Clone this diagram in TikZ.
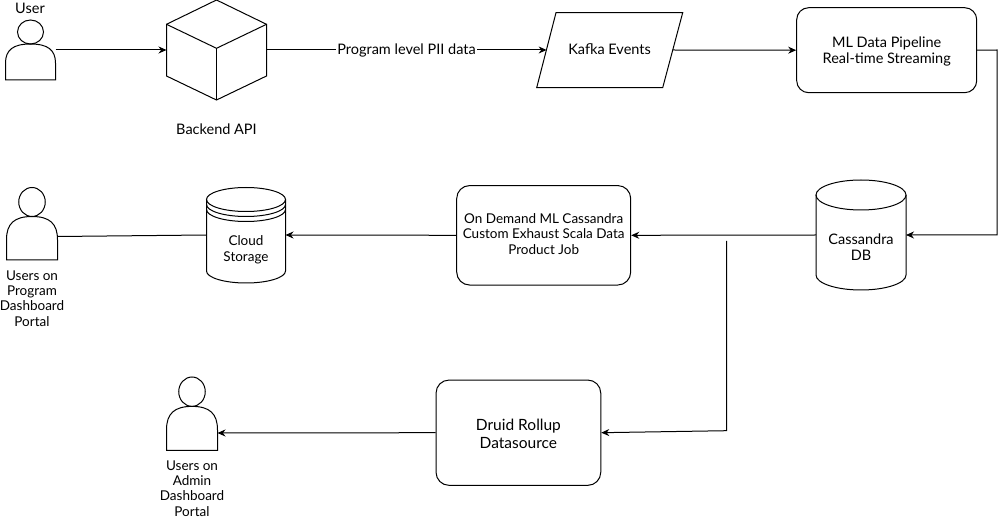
\documentclass[tikz,border=0pt]{standalone}
\usepackage{fontspec}
\setmainfont{Lato}
\usepackage{tikz}
\usetikzlibrary{arrows.meta}

\tikzset{
  roundbox/.style={draw,rounded corners=13pt,align=center,inner sep=0pt},
  label/.style={align=center,font=\fontsize{14.5}{16}\selectfont},
  smalllabel/.style={align=center,font=\fontsize{13.5}{15.3}\selectfont},
  flow/.style={-{Stealth[length=8pt,width=7pt]}},
  hidden/.style={inner sep=0pt,outer sep=0pt},
}

\begin{document}
\begin{tikzpicture}[x=1pt,y=-1pt,line width=1pt]
  \useasboundingbox (0,0) rectangle (1005,521);

  % people
  \foreach \n/\x/\y/\w/\h in {user/5.5/20/50/60,progusers/6.5/187.5/51/72.5,adminusers/166.5/377/51/73.5} {
    \begin{scope}[shift={(\x,\y)},x=\w pt,y=-\h pt]
      \draw (0.5,0.2) ellipse [x radius=0.26*\w pt,y radius=0.2*\h pt];
      \draw (0,1) -- (0,0.72) .. controls (0,0.5) and (0.15,0.4) .. (0.5,0.4)
        .. controls (0.85,0.4) and (1,0.5) .. (1,0.72) -- (1,1) -- cycle;
    \end{scope}
    \node[hidden,minimum width=\w pt,minimum height=\h pt,anchor=north west] (\n) at (\x,\y) {};
  }

  % cube
  \draw (216.5,0) -- (266.5,24.3) -- (266.5,76) -- (216.5,100) -- (166.5,76) -- (166.5,24.3) -- cycle;
  \draw (166.5,24.3) -- (216.5,48.3) -- (266.5,24.3);
  \draw (216.5,48.3) -- (216.5,100);
  \node[hidden,minimum width=100pt,minimum height=100pt] (api) at (216.5,50) {};

  % kafka
  \draw (556,12.7) -- (682.7,12.7) -- (662.7,87.7) -- (536.7,87.7) -- cycle;
  \node[hidden,label,minimum width=126pt] (kafka) at (609.6,49) {Kafka Events};

  \node[draw,rounded corners=12pt,minimum width=180pt,minimum height=85pt] (pipeline) at (886.7,50.2) {};
  \node[label] (pipelinelabel) at (886.7,51) {ML Data Pipeline\\Real-time Streaming};
  \node[draw,rounded corners=13pt,minimum width=174pt,minimum height=99.5pt] (ondemand) at (543.7,235.3) {};
  \node[smalllabel] (ondemandlabel) at (543.7,234) {On Demand ML Cassandra\\Custom Exhaust Scala Data\\Product Job};
  \node[draw,rounded corners=13pt,minimum width=164.7pt,minimum height=105.3pt] (druid) at (518.4,432.7) {};
  \node[label,font=\fontsize{15.5}{18}\selectfont] (druidlabel) at (518.4,434) {Druid Rollup\\Datasource};

  % cylinders
  \draw (816,195) -- (816,275) arc [start angle=180,end angle=360,x radius=45,y radius=-15] -- (906,195);
  \draw (861,195) ellipse [x radius=45,y radius=15];
  \node[hidden,minimum width=90pt,minimum height=110pt] (cassandra) at (861,235) {};
  \draw (206.5,199.5) -- (206.5,271) arc [start angle=180,end angle=360,x radius=39.5,y radius=-12] -- (285.5,199.5);
  \draw (246,199.5) ellipse [x radius=39.5,y radius=12];
  \foreach \d in {5,10} {
    \draw (206.5,199.5+\d) arc [start angle=180,end angle=360,x radius=39.5,y radius=-12];
  }
  \node[hidden,minimum width=79pt,minimum height=96pt] (cloud) at (246,235) {};

  % labels
  \node[label] (userlabel) at (30,8) {User};
  \node[label] (apilabel) at (216.5,129) {Backend API};
  \node[label] (cassandralabel) at (861,247) {Cassandra\\DB};
  \node[smalllabel,font=\fontsize{13.5}{16}\selectfont] (cloudlabel) at (246,250) {Cloud\\Storage};
  \node[smalllabel] (proglabel) at (32,298.5) {Users on\\Program\\Dashboard\\Portal};
  \node[smalllabel] (adminlabel) at (192,488.5) {Users on\\Admin\\Dashboard\\Portal};

  % connectors
  \coordinate (branchtop) at (726.7,241);
  \coordinate (branchbend) at (726.7,430.7);
  \draw[flow] (user.east |- 0,50) -- (api.west);
  \draw[flow] (api.east) -- node[fill=white,label,inner sep=1pt] (plabel) {Program level PII data} (546.6,50);
  \draw[flow] (672.7,50) -- (pipeline.west);
  \draw[flow] (pipeline.east) -- (997,50) -- (997,235) -- (cassandra.east);
  \draw[flow] (cassandra.west) -- (ondemand.east);
  \draw[flow] (ondemand.west) -- (cloud.east);
  \draw (cloud.west) -- (progusers.east |- 0,236.5);
  \draw[flow] (branchtop) -- (branchbend) -- (druid.east);
  \draw[flow] (druid.west) -- (adminusers.east |- 0,433);
\end{tikzpicture}
\end{document}
